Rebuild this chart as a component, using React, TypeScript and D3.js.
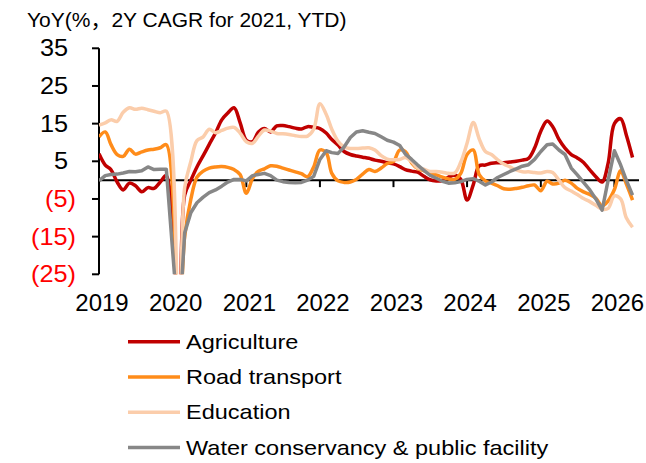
import React from 'react';
import * as d3 from 'd3';

// Monthly values, Jan 2019 .. Apr 2026 (Jan 2020 not reported: Jan-Feb combined)
const agriculture = [
  7.0, 4.0, 2.8, -0.5, -2.6, -0.8, -1.5, -3.1, -2.0, -2.2, -0.5, 1.2,
  null, -40, -4, 0, 3.5, 6.5, 9.5, 12.5, 16.0, 17.8, 19.2, 15.3,
  10.6, 10.2, 12.7, 13.7, 12.8, 14.4, 14.5, 14.2, 13.8, 13.6, 14.2, 14.0,
  13.7, 12.5, 10.8, 9.3, 7.6, 6.8, 6.4, 6.1, 5.8, 5.3, 5.0, 4.6,
  4.3, 3.6, 2.8, 2.4, 2.1, 1.0, 0.1, -0.2, -0.1, 0.8, 1.3, 0.2,
  -5.3, -1.2, 3.8, 4.0, 4.5, 4.6, 4.6, 4.8, 5.0, 5.3, 5.8, 8.5,
  13.0, 15.7, 14.2, 10.8, 8.5, 6.8, 5.9, 4.7, 2.7, 0.9, -0.5, 4.5,
  15.0, 16.3, 12.0, 6.0,
];
const roadTransport = [
  11.5, 12.8, 9.5, 6.8, 6.3, 8.2, 6.9, 7.5, 8.0, 8.2, 8.6, 9.4,
  null, -40, -15, -5, 0.8, 2.4, 3.2, 3.5, 3.6, 3.4, 2.8, 1.5,
  -3.5, 0.5, 2.3, 3.0, 3.8, 3.7, 3.2, 2.7, 2.2, 1.7, 0.9, 3.5,
  8.0, 7.3, 1.8, -0.2, -0.6, -0.5, 0.2, 1.6, 2.8, 2.3, 3.2, 4.4,
  5.0, 8.0, 7.6, 4.6, 3.1, 2.5, 2.0, 1.4, 0.8, 0.3, 0.2, 1.8,
  6.8, 8.0, 1.5, -0.2, -0.8, -1.5, -2.3, -2.4, -2.2, -1.9, -1.5, -1.3,
  -2.8, -0.3, -1.0, -0.8, 0.0, -0.8, -2.2, -3.1, -3.8, -4.8, -6.8, -5.5,
  -2.5, 2.5, -1.0, -5.3,
];
const education = [
  14.6, 15.2, 16.0, 15.6, 18.0, 19.2, 18.8, 19.1, 18.7, 18.3, 17.9, 18.3,
  null, -40, -2, 5, 10.5, 11.5, 13.5, 12.6, 13.2, 13.8, 14.0, 12.5,
  10.2, 9.8, 11.6, 13.3, 13.0, 12.4, 12.3, 12.1, 11.8, 11.6, 11.7, 13.5,
  20.3, 17.5, 13.5, 10.3, 8.8, 8.4, 8.4, 8.5, 8.6, 8.0, 6.5, 5.6,
  5.4, 5.5, 6.0, 4.9, 3.2, 2.9, 2.3, 2.3, 2.1, 1.8, 1.9, 4.8,
  9.8, 15.3, 11.0, 7.6, 6.8, 5.4, 4.3, 3.5, 2.7, 2.2, 2.2, 2.0,
  1.9, 2.3, 2.0, 0.0, -2.0, -2.9, -3.8, -4.9, -5.7, -6.7, -7.7, -7.5,
  -4.2, -5.0, -10.0, -12.5,
];
const waterConservancy = [
  -0.2, 1.2, 1.5, 1.6, 1.9, 2.3, 2.2, 2.5, 3.5, 2.8, 2.9, 2.9,
  null, -40, -14, -8.6, -6.0, -4.5, -3.3, -2.6, -1.6, -0.5, 0.2, 0.2,
  -0.2, 1.2, 1.5, 1.8, 1.2, 0.0, -0.4, -0.6, -0.7, -0.6, 0.0, 1.0,
  5.5, 7.8, 7.3, 7.1, 8.8, 11.3, 12.8, 13.1, 12.7, 12.4, 11.5, 10.6,
  10.1, 9.2, 6.9, 5.5, 4.0, 2.6, 1.3, 0.5, -0.3, -0.8, -0.7, -0.4,
  0.2, 0.4, -0.3, -1.3, -0.5, 0.7, 1.5, 2.3, 3.0, 3.7, 4.1, 5.5,
  7.6, 9.4, 9.6, 8.0, 6.8, 3.2, 1.4, -0.6, -2.6, -5.0, -8.0, 0.0,
  7.8, 4.0, 0.0, -4.0,
];

const seriesNames = ['Agriculture', 'Road transport', 'Education', 'Water conservancy & public facility'];
const yTicks = [35, 25, 15, 5, -5, -15, -25];
const yearLabels = ['2019', '2020', '2021', '2022', '2023', '2024', '2025', '2026'];
const titleText = 'YoY(%\uFF0C2Y CAGR for 2021, YTD)';

const FONT = '"Liberation Sans", Arial, sans-serif';
const TITLE_FONT = '"Liberation Sans", Arial, "Noto Sans CJK SC", sans-serif';

export default function App() {
  const start = new Date(2019, 0, 1);
  const x = d3.scaleTime().domain([start, new Date(2026, 0, 1)]).range([99, 614.4]);
  const y = d3.scaleLinear().domain([-25, 35]).range([274.3, 48.3]);

  const smooth = d3.curveCatmullRom.alpha(0.5);
  const series = [
    { name: seriesNames[0], values: agriculture, color: '#C00000', curve: smooth },
    { name: seriesNames[1], values: roadTransport, color: '#FF8C1A', curve: smooth },
    { name: seriesNames[2], values: education, color: '#FBCDAB', curve: smooth },
    { name: seriesNames[3], values: waterConservancy, color: '#878787', curve: d3.curveLinear },
  ];

  const dateOf = (i: number) => d3.timeMonth.offset(start, i);
  const years = yearLabels.map((l) => new Date(+l, 0, 1));

  return (
    <svg width={646} height={463} style={{ position: 'absolute', left: 0, top: 0, background: '#fff' }}>
      <defs>
        <clipPath id="plot">
          <rect x={99} y={40} width={546} height={y(-25) - 40} />
        </clipPath>
      </defs>
      <rect x={0} y={0} width={646} height={463} fill="#fff" />
      <text x={27} y={27} fontFamily={TITLE_FONT} fontSize={21} fill="#000">{titleText}</text>

      {/* y axis */}
      <line x1={99} x2={99} y1={y(35)} y2={y(-25)} stroke="#000" strokeWidth={2} />
      {yTicks.map((t) => (
        <g key={t}>
          <line x1={92} x2={99} y1={y(t)} y2={y(t)} stroke="#000" strokeWidth={2} />
          <text
            transform={`translate(${t < 0 ? 76 : 68},${y(t) + 8}) scale(1.1,1)`}
            textAnchor="end"
            fontFamily={FONT}
            fontSize={23}
            fill={t < 0 ? '#FF0000' : '#000'}
          >
            {t < 0 ? `(${-t})` : `${t}`}
          </text>
        </g>
      ))}

      {/* x axis at zero */}
      <line x1={99} x2={639} y1={y(0)} y2={y(0)} stroke="#000" strokeWidth={2} />
      {years.map((d, i) => (
        <g key={i}>
          {i > 0 && <line x1={x(d)} x2={x(d)} y1={y(0)} y2={y(0) + 7} stroke="#000" strokeWidth={2} />}
          <text x={x(d) + 3} y={311} textAnchor="middle" fontFamily={FONT} fontSize={24} fill="#000">
            {yearLabels[i]}
          </text>
        </g>
      ))}

      {/* series */}
      <g clipPath="url(#plot)">
        {series.map((s) => {
          const pts = s.values
            .map((v, i) => ({ d: dateOf(i), v }))
            .filter((p) => p.v !== null) as { d: Date; v: number }[];
          const line = d3
            .line<{ d: Date; v: number }>()
            .x((p) => x(p.d))
            .y((p) => y(p.v))
            .curve(s.curve);
          return (
            <path key={s.name} d={line(pts) || ''} fill="none" stroke={s.color} strokeWidth={3.5} strokeLinejoin="round" />
          );
        })}
      </g>

      {/* legend */}
      {series.map((s, i) => {
        const ly = 341.7 + i * 35.3;
        return (
          <g key={s.name}>
            <line x1={128} x2={180} y1={ly} y2={ly} stroke={s.color} strokeWidth={3.5} />
            <text transform={`translate(186,${ly + 7}) scale(1.12,1)`} fontFamily={FONT} fontSize={21} fill="#000">
              {s.name}
            </text>
          </g>
        );
      })}
    </svg>
  );
}
